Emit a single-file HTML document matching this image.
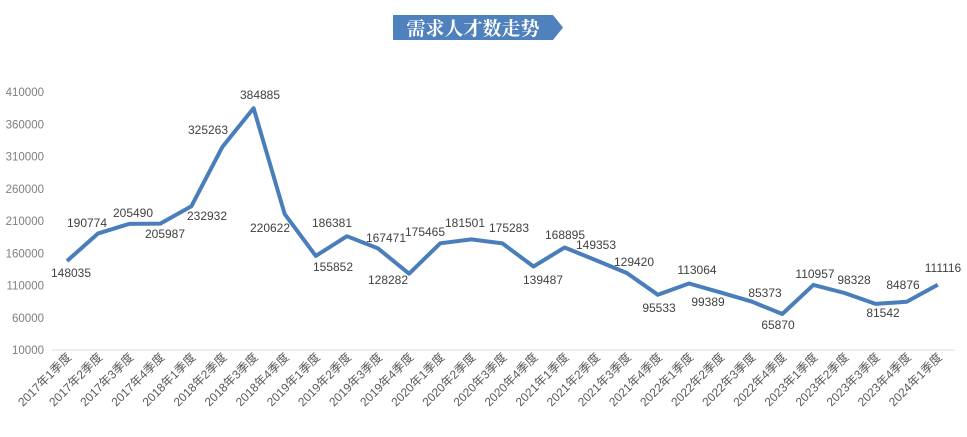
<!DOCTYPE html>
<html><head><meta charset="utf-8"><style>
body{margin:0;background:#fff;width:967px;height:437px;overflow:hidden}
svg{display:block}
text{font-family:"Liberation Sans","Noto Sans CJK SC",sans-serif}
</style></head><body>
<svg id="s" width="967" height="437" xmlns="http://www.w3.org/2000/svg">
<polygon points="393,15 553,15 563,27.5 553,40 393,40" fill="#4f81bd"/>
<text x="473" y="35" fill="#fff" font-size="19" text-anchor="middle" font-weight="bold" style="font-family:'Noto Serif CJK SC','Noto Sans CJK SC',serif">需求人才数走势</text>
<line x1="52" y1="350" x2="955" y2="350" stroke="#d9d9d9" stroke-width="1"/>
<g id="g"></g>
</svg>
<script>
var v=[148035,190774,205490,205987,232932,325263,384885,220622,155852,186381,167471,128282,175465,181501,175283,139487,168895,149353,129420,95533,113064,99389,85373,65870,110957,98328,81542,84876,111116];
var lp=[[71,273],[87,223],[133,213],[165,234],[207,216],[208,130],[260,95],[270,228],[333,267],[332,223],[386,238],[388,280],[425,232],[465,223],[509,228],[543,280],[565,235],[596,245],[634,262],[659,308],[697,270],[708,302],[765,293],[778,325],[815,274],[854,280],[883,313],[903,285],[943,268]];
var h='';
for(var i=0;i<9;i++){var val=410000-i*50000;var y=92+i*32.25;h+='<text x="44" y="'+(y+4)+'" font-size="11.5" fill="#7f7f7f" text-anchor="end">'+val+'</text>';}
var pts=[];
for(var i=0;i<v.length;i++){var x=67+i*31.1;var y=350-(v[i]-10000)*0.000645;pts.push(x.toFixed(1)+','+y.toFixed(1));
var yr=2017+Math.floor(i/4),q=i%4+1;
h+='<text transform="translate('+(x+5)+',358) rotate(-45)" font-size="12" fill="#595959" text-anchor="end">'+yr+'年'+q+'季度</text>';
h+='<text x="'+lp[i][0]+'" y="'+(lp[i][1]+4)+'" font-size="12" fill="#404040" text-anchor="middle">'+v[i]+'</text>';}
h='<polyline points="'+pts.join(' ')+'" fill="none" stroke="#4a7ebb" stroke-width="4" stroke-linejoin="round"/>'+h;
document.getElementById('g').innerHTML=h;
</script>
</body></html>
